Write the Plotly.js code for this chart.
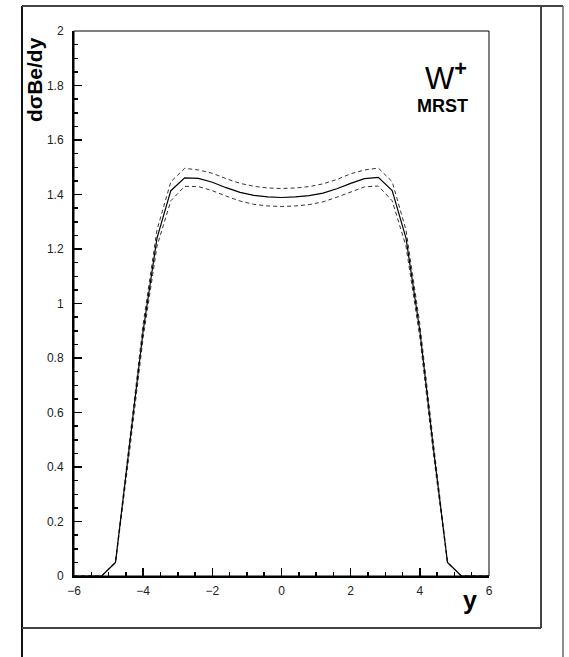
<!DOCTYPE html>
<html>
<head>
<meta charset="utf-8">
<script src="https://cdn.plot.ly/plotly-3.0.1.min.js"></script>
<style>html,body{margin:0;padding:0;background:#fff;}#chart{width:569px;height:657px;}</style>
</head>
<body>
<div id="chart"></div>
<script>
// rapidity values
const rapidity = [-6, -5.6, -5.2, -4.8, -4.4, -4.0, -3.6, -3.2, -2.8, -2.4, -2.0, -1.6, -1.2, -0.8, -0.4, 0, 0.4, 0.8, 1.2, 1.6, 2.0, 2.4, 2.8, 3.2, 3.6, 4.0, 4.4, 4.8, 5.2, 5.6, 6];
// central MRST prediction
const central = [0, 0, 0, 0.05, 0.47, 0.90, 1.24, 1.414, 1.461, 1.459, 1.445, 1.425, 1.408, 1.397, 1.391, 1.389, 1.391, 1.396, 1.405, 1.421, 1.441, 1.458, 1.463, 1.414, 1.24, 0.90, 0.46, 0.05, 0, 0, 0];
// upper uncertainty band
const upper = [0, 0, 0, 0.052, 0.49, 0.925, 1.27, 1.447, 1.496, 1.490, 1.478, 1.458, 1.441, 1.430, 1.424, 1.422, 1.424, 1.429, 1.439, 1.455, 1.476, 1.490, 1.497, 1.447, 1.27, 0.925, 0.48, 0.052, 0, 0, 0];
// lower uncertainty band
const lower = [0, 0, 0, 0.048, 0.45, 0.875, 1.21, 1.377, 1.430, 1.429, 1.414, 1.394, 1.376, 1.364, 1.358, 1.356, 1.358, 1.363, 1.373, 1.390, 1.410, 1.428, 1.431, 1.377, 1.21, 0.875, 0.44, 0.048, 0, 0, 0];

const xTitle = 'y';
const yTitle = 'dσBe/dy';
const labelTop = 'W<sup><b>+</b></sup>';
const labelBottom = 'MRST';

// plot area in pixels
const L = 74, R = 489, T = 31, B = 576, W = 569, H = 657;
const px = v => (v - L) / (R - L);
const py = v => (B - v) / (B - T);

const traces = [
  {x: rapidity, y: upper, mode: 'lines', line: {color: '#333', width: 1, dash: '4px,3px'}, hoverinfo: 'skip'},
  {x: rapidity, y: lower, mode: 'lines', line: {color: '#333', width: 1, dash: '4px,3px'}, hoverinfo: 'skip'},
  {x: rapidity, y: central, mode: 'lines', line: {color: '#000', width: 1.2}, hoverinfo: 'skip'}
];

const frameLine = {color: '#444', width: 2};
const shapes = [
  {type: 'line', xref: 'paper', yref: 'paper', x0: px(22), x1: px(22), y0: py(6), y1: py(657), line: {color: '#111', width: 2}},
  {type: 'line', xref: 'paper', yref: 'paper', x0: px(22), x1: px(563), y0: py(6), y1: py(6), line: frameLine},
  {type: 'line', xref: 'paper', yref: 'paper', x0: px(541), x1: px(541), y0: py(6), y1: py(628), line: frameLine},
  {type: 'line', xref: 'paper', yref: 'paper', x0: px(563), x1: px(563), y0: py(6), y1: py(657), line: {color: '#666', width: 1.5}},
  {type: 'line', xref: 'paper', yref: 'paper', x0: px(22), x1: px(541), y0: py(628), y1: py(628), line: frameLine},
  {type: 'rect', xref: 'paper', yref: 'paper', x0: 0, x1: 1, y0: 0, y1: 1, line: {color: '#000', width: 1}, layer: 'below'}
];

const font = 'Liberation Sans, Arial, Helvetica, sans-serif';
const layout = {
  width: W, height: H,
  margin: {l: L, r: W - R, t: T, b: H - B, pad: 0},
  paper_bgcolor: '#fff', plot_bgcolor: '#fff',
  showlegend: false,
  font: {family: font, size: 12, color: '#222'},
  xaxis: {
    range: [-6, 6], dtick: 2, tick0: -6, ticks: 'inside', ticklen: 8, tickwidth: 1.5, tickcolor: '#000',
    showline: true, linewidth: 2, linecolor: '#000', zeroline: false, showgrid: false,
    ticklabelstandoff: 3,
    minor: {dtick: 0.5, tick0: -6, ticks: 'inside', ticklen: 4, tickwidth: 1.5, tickcolor: '#000', showgrid: false},
    tickfont: {family: font, size: 12, color: '#222'}
  },
  yaxis: {
    range: [0, 2], dtick: 0.2, tick0: 0, ticks: 'inside', ticklen: 8, tickwidth: 1.5, tickcolor: '#000',
    showline: true, linewidth: 2, linecolor: '#000', zeroline: false, showgrid: false,
    ticklabelstandoff: 6,
    minor: {dtick: 0.05, tick0: 0, ticks: 'inside', ticklen: 4, tickwidth: 1.5, tickcolor: '#000', showgrid: false},
    tickfont: {family: font, size: 12, color: '#222'}
  },
  shapes: shapes,
  annotations: [
    {text: yTitle, xref: 'paper', yref: 'paper', x: px(35), y: py(80), textangle: -90, showarrow: false,
     xanchor: 'center', yanchor: 'middle', font: {family: font, size: 21, color: '#000', weight: 'bold'}},
    {text: xTitle, xref: 'paper', yref: 'paper', x: px(470), y: py(600), showarrow: false,
     xanchor: 'center', yanchor: 'middle', font: {family: font, size: 25, color: '#000', weight: 'bold'}},
    {text: labelTop, xref: 'paper', yref: 'paper', x: px(446), y: py(76), showarrow: false,
     xanchor: 'center', yanchor: 'middle', font: {family: font, size: 31, color: '#000'}},
    {text: labelBottom, xref: 'paper', yref: 'paper', x: px(442), y: py(106), showarrow: false,
     xanchor: 'center', yanchor: 'middle', font: {family: font, size: 18, color: '#000', weight: 'bold'}}
  ]
};

Plotly.newPlot('chart', traces, layout, {staticPlot: true, displayModeBar: false});
</script>
</body>
</html>
